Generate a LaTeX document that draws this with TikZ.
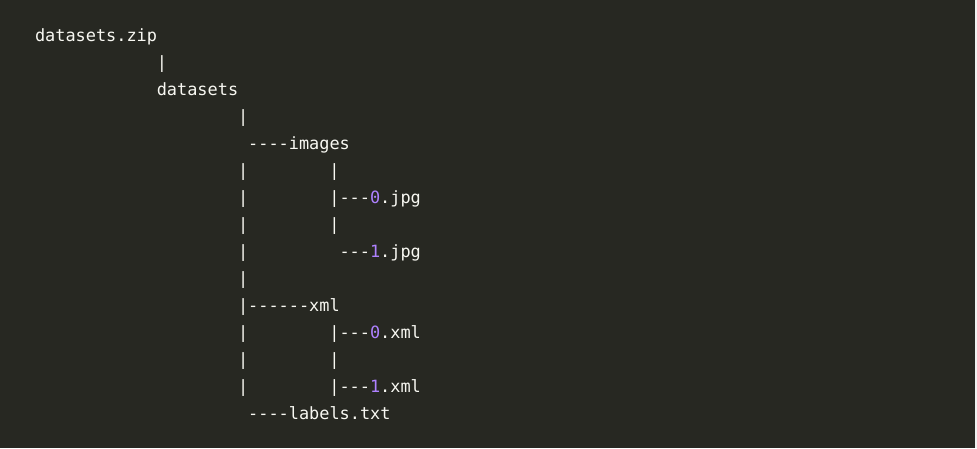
\documentclass[tikz,border=0pt]{standalone}
\usepackage{fontspec}
\newfontfamily\codefont{DejaVu Sans Mono}
\definecolor{bgc}{HTML}{272822}
\definecolor{fgc}{HTML}{F8F8F2}
\definecolor{numc}{HTML}{AE81FF}
\newcommand{\nm}[1]{\textcolor{numc}{#1}}
\begin{document}
\begin{tikzpicture}[x=1pt,y=-1pt,
  code/.style={anchor=base west,inner sep=0pt,outer sep=0pt,text=fgc,
    font=\codefont\fontsize{16.9}{20}\selectfont}]
\fill[bgc] (0,0) rectangle (977,448);
\fill[white!94!black] (975,0) rectangle (977,448);
\useasboundingbox (0,0) rectangle (977,448);
% columns: x = 35 + 10.15*col ; baselines: y = 41 + 27*line
\node[code] (zip)   at (35,41)       {datasets.zip};
\node[code] (b1)    at (156.8,68)    {|};
\node[code] (ds)    at (156.8,95)    {datasets};
\node[code] (b2)    at (238,122)     {|};
\node[code] (img)   at (248.15,149)  {----images};
\node[code] (b3)    at (238,176)     {|};
\node[code] (c3)    at (329.35,176)  {|};
\node[code] (b4)    at (238,203)     {|};
\node[code] (jpg0)  at (329.35,203)  {|---\nm{0}.jpg};
\node[code] (b5)    at (238,230)     {|};
\node[code] (c5)    at (329.35,230)  {|};
\node[code] (b6)    at (238,257)     {|};
\node[code] (jpg1)  at (339.5,257)   {---\nm{1}.jpg};
\node[code] (b7)    at (238,284)     {|};
\node[code] (xml)   at (238,311)     {|------xml};
\node[code] (b8)    at (238,338)     {|};
\node[code] (xml0)  at (329.35,338)  {|---\nm{0}.xml};
\node[code] (b9)    at (238,365)     {|};
\node[code] (c9)    at (329.35,365)  {|};
\node[code] (b10)   at (238,392)     {|};
\node[code] (xml1)  at (329.35,392)  {|---\nm{1}.xml};
\node[code] (lab)   at (248.15,419)  {----labels.txt};
\end{tikzpicture}
\end{document}
